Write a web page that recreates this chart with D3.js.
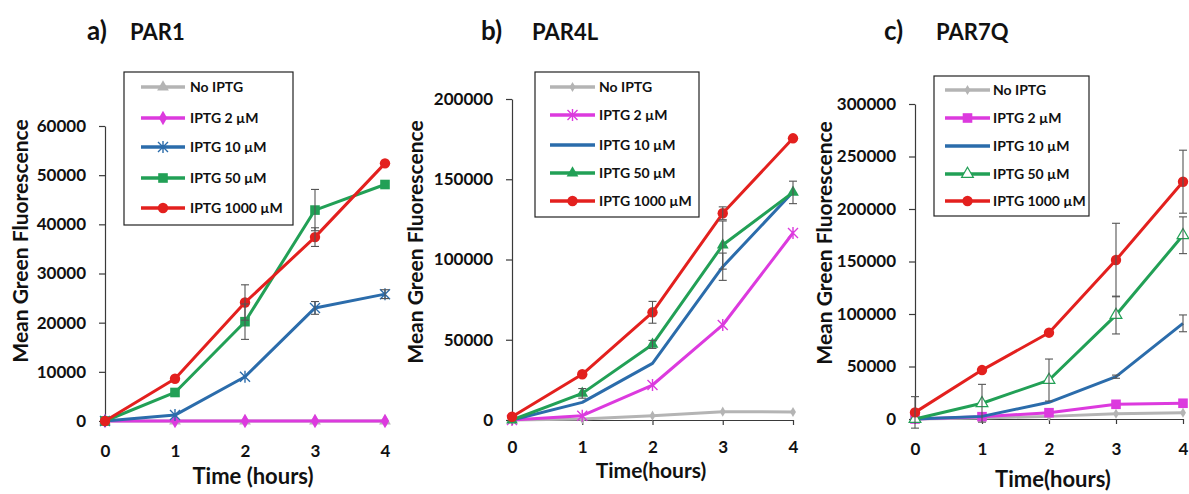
<!DOCTYPE html>
<html>
<head>
<meta charset="utf-8">
<script src="https://cdn.jsdelivr.net/npm/d3@7"></script>
<style>
body { margin: 0; background: #fff; }
text { font-family: Lato, "Open Sans", sans-serif; font-weight: 700; fill: #111; }
</style>
</head>
<body>
<div id="chart"></div>
<script>
const hours = [0, 1, 2, 3, 4];
const seriesNames = ["No IPTG", "IPTG 2 µM", "IPTG 10 µM", "IPTG 50 µM", "IPTG 1000 µM"];
const seriesColors = ["#b4b4b4", "#dc3ade", "#2b6cab", "#22a056", "#e3201e"];

// PAR1
const par1Mean = [
    [0, 0, 0, 0, 0],
    [0, 0, 0, 0, 0],
    [0, 1200, 9000, 23000, 25800],
    [0, 5800, 20200, 42900, 48100],
    [0, 8600, 24100, 37400, 52400]
];
const par1Err = [
    [0, 0, 0, 0, 0],
    [0, 0, 0, 0, 0],
    [0, 0, 0, 1300, 900],
    [0, 0, 3600, 4200, 0],
    [0, 0, 3600, 1900, 0]
];
const par1Markers = ["triangle", "diamond", "asterisk", "square", "circle"];
const par1Ticks = [0, 10000, 20000, 30000, 40000, 50000, 60000];

// PAR4L
const par4lMean = [
    [0, 600, 2700, 5200, 5000],
    [0, 2700, 21800, 59200, 116500],
    [0, 11000, 35300, 95500, 142000],
    [0, 16600, 47100, 109000, 141800],
    [2000, 28500, 67100, 128800, 175500]
];
const par4lErr = [
    [0, 0, 0, 0, 0],
    [0, 0, 0, 0, 0],
    [0, 0, 0, 8500, 0],
    [0, 3000, 2500, 15000, 7000],
    [0, 0, 6800, 4000, 0]
];
const par4lMarkers = ["smallDiamond", "asterisk", "none", "triangle", "circle"];
const par4lTicks = [0, 50000, 100000, 150000, 200000];

// PAR7Q
const par7qMean = [
    [0, 1000, 2500, 5000, 6000],
    [0, 2200, 6000, 14000, 15000],
    [0, 2500, 15900, 40300, 91100],
    [0, 15000, 37100, 99000, 175000],
    [6300, 46600, 82200, 151400, 226000]
];
const par7qErr = [
    [0, 0, 0, 0, 0],
    [0, 0, 0, 0, 0],
    [0, 0, 0, 1500, 8000],
    [0, 18000, 20000, 18000, 17500],
    [15000, 0, 0, 35000, 30000]
];
const par7qMarkers = ["smallDiamond", "square", "none", "triangleOpen", "circle"];
const par7qTicks = [0, 50000, 100000, 150000, 200000, 250000, 300000];

const width = 1189, height = 494;

const panels = [
    { letter: "a)", name: "PAR1", mean: par1Mean, err: par1Err, markers: par1Markers, ticks: par1Ticks,
      x0: 105, x1: 385, y0: 421, y1: 126, letterX: 87, nameX: 130, xlabel: "Time (hours)", xlabelX: 253, xlabelY: 484,
      xlabelSize: 22, tickPad: 19, ylabelX: 28, ylabelY: 241,
      legend: { x: 124, y: 72, w: 169, h: 153, rows: [87, 118, 147, 178, 208], lx0: 141, lx1: 185, tx: 190 } },
    { letter: "b)", name: "PAR4L", mean: par4lMean, err: par4lErr, markers: par4lMarkers, ticks: par4lTicks,
      x0: 512, x1: 793, y0: 420, y1: 99, letterX: 481, nameX: 532, xlabel: "Time(hours)", xlabelX: 651, xlabelY: 478,
      xlabelSize: 21, tickPad: 16, ylabelX: 423, ylabelY: 242,
      legend: { x: 535, y: 72, w: 164, h: 145, rows: [87, 115, 145, 173, 201], lx0: 550, lx1: 595, tx: 599 } },
    { letter: "c)", name: "PAR7Q", mean: par7qMean, err: par7qErr, markers: par7qMarkers, ticks: par7qTicks,
      x0: 915, x1: 1183, y0: 419, y1: 104, letterX: 884, nameX: 936, xlabel: "Time(hours)", xlabelX: 1053, xlabelY: 487,
      xlabelSize: 22, tickPad: 19, ylabelX: 832, ylabelY: 243,
      legend: { x: 934, y: 76, w: 155, h: 140, rows: [90, 118, 146, 174, 201], lx0: 945, lx1: 990, tx: 993 } }
];

const svg = d3.select("#chart").append("svg")
    .attr("width", width)
    .attr("height", height);

function drawMarker(g, type, color) {
    if (type === "circle") {
        g.append("circle").attr("r", 5.2).attr("fill", color);
    } else if (type === "square") {
        g.append("rect").attr("x", -4.8).attr("y", -4.8).attr("width", 9.6).attr("height", 9.6).attr("fill", color);
    } else if (type === "diamond") {
        g.append("path").attr("d", d3.symbol(d3.symbolDiamond, 60)()).attr("fill", color);
    } else if (type === "smallDiamond") {
        g.append("path").attr("d", d3.symbol(d3.symbolDiamond, 30)()).attr("fill", color);
    } else if (type === "triangle") {
        g.append("path").attr("d", d3.symbol(d3.symbolTriangle, 60)()).attr("fill", color);
    } else if (type === "triangleOpen") {
        g.append("path").attr("d", d3.symbol(d3.symbolTriangle, 60)())
            .attr("fill", "#fff").attr("stroke", color).attr("stroke-width", 1.2);
    } else if (type === "asterisk") {
        g.append("path").attr("d", "M-5,-5L5,5M-5,5L5,-5M0,-6L0,6")
            .attr("fill", "none").attr("stroke", color).attr("stroke-width", 1.4);
    }
}

panels.forEach(p => {
    const x = d3.scaleLinear().domain([0, 4]).range([p.x0, p.x1]);
    const yMax = p.ticks[p.ticks.length - 1];
    const y = d3.scaleLinear().domain([0, yMax]).range([p.y0, p.y1]);
    const g = svg.append("g");

    // Title
    g.append("text").attr("x", p.letterX).attr("y", 40).style("font-size", "26px").text(p.letter);
    g.append("text").attr("x", p.nameX).attr("y", 40).style("font-size", "22px").text(p.name);

    // Axes
    const yAxis = g.append("g")
        .attr("transform", `translate(${p.x0},0)`)
        .call(d3.axisLeft(y).tickValues(p.ticks).tickFormat(d3.format("d")).tickSize(6).tickSizeOuter(0).tickPadding(13));
    const xAxis = g.append("g")
        .attr("transform", `translate(0,${p.y0})`)
        .call(d3.axisBottom(x).tickValues(hours).tickFormat(d3.format("d")).tickSize(5).tickSizeOuter(0).tickPadding(p.tickPad));
    [yAxis, xAxis].forEach(a => {
        a.selectAll("path, line").attr("stroke", "#3a3a3a").attr("stroke-width", 1.2);
        a.selectAll("text").style("font-size", "17px").style("font-family", "Lato, sans-serif").style("font-weight", 700).attr("fill", "#111");
    });

    // Axis labels
    g.append("text")
        .attr("transform", `translate(${p.ylabelX},${p.ylabelY}) rotate(-90)`)
        .attr("text-anchor", "middle")
        .style("font-size", "21px")
        .text("Mean Green Fluorescence");
    g.append("text")
        .attr("x", p.xlabelX).attr("y", p.xlabelY)
        .attr("text-anchor", "middle")
        .style("font-size", p.xlabelSize + "px")
        .text(p.xlabel);

    const line = d3.line().x((d, i) => x(hours[i])).y(d => y(d));

    // Lines and markers
    p.mean.forEach((vals, s) => {
        g.append("path")
            .datum(vals)
            .attr("fill", "none")
            .attr("stroke", seriesColors[s])
            .attr("stroke-width", 3)
            .attr("stroke-linejoin", "round")
            .attr("d", line);
        vals.forEach((v, i) => {
            const m = g.append("g").attr("transform", `translate(${x(hours[i])},${y(v)})`);
            drawMarker(m, p.markers[s], seriesColors[s]);
        });
    });

    // Error bars
    p.mean.forEach((vals, s) => {
        vals.forEach((v, i) => {
            const e = p.err[s][i];
            if (!e) return;
            const cx = x(hours[i]);
            const eg = g.append("g").attr("stroke", "#555").attr("stroke-width", 1.1);
            eg.append("line").attr("x1", cx).attr("x2", cx).attr("y1", y(v - e)).attr("y2", y(v + e));
            [v - e, v + e].forEach(t => {
                eg.append("line").attr("x1", cx - 4).attr("x2", cx + 4).attr("y1", y(t)).attr("y2", y(t));
            });
        });
    });

    // Legend
    const L = p.legend;
    const lg = g.append("g");
    lg.append("rect").attr("x", L.x).attr("y", L.y).attr("width", L.w).attr("height", L.h)
        .attr("fill", "#fff").attr("stroke", "#222").attr("stroke-width", 1.2);
    seriesNames.forEach((name, s) => {
        const ry = L.rows[s];
        lg.append("line").attr("x1", L.lx0).attr("x2", L.lx1).attr("y1", ry).attr("y2", ry)
            .attr("stroke", seriesColors[s]).attr("stroke-width", 3.5);
        const m = lg.append("g").attr("transform", `translate(${(L.lx0 + L.lx1) / 2},${ry})`);
        drawMarker(m, p.markers[s], seriesColors[s]);
        lg.append("text").attr("x", L.tx).attr("y", ry + 5).style("font-size", "14px").text(name);
    });
});
</script>
</body>
</html>
